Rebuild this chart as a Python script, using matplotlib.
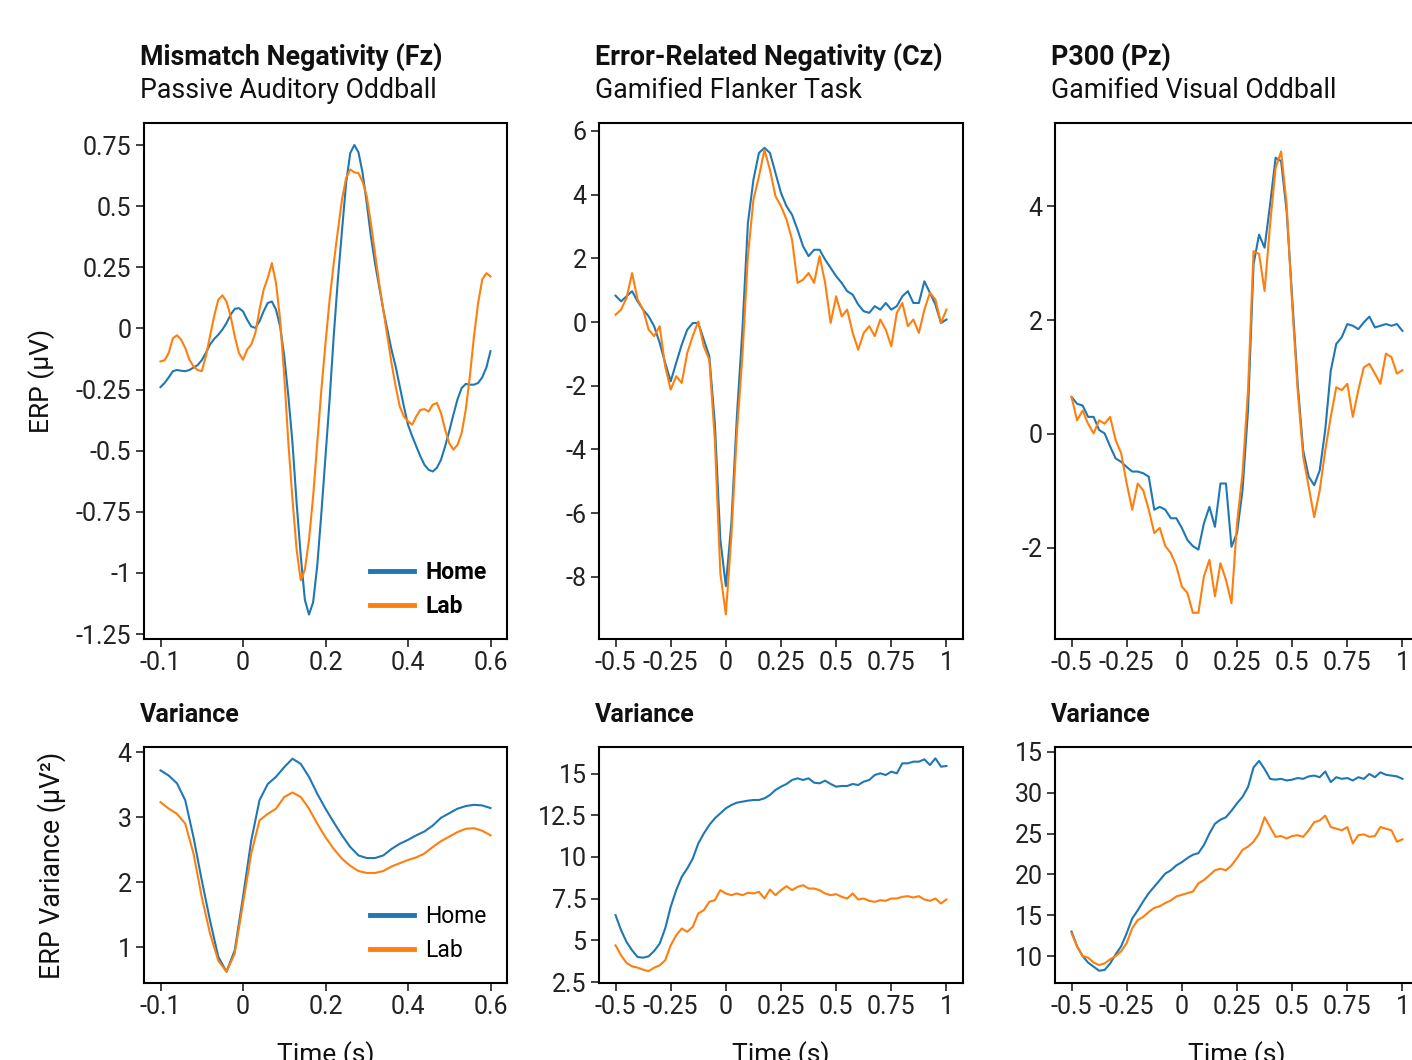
import numpy as np
import matplotlib
matplotlib.use("Agg")
import matplotlib.pyplot as plt
from matplotlib.ticker import FixedLocator, FixedFormatter

plt.rcParams['font.family'] = ['Roboto', 'DejaVu Sans']
plt.rcParams['axes.unicode_minus'] = False

HOME_C = '#1f77b4'
LAB_C = '#ff7f0e'

# ---- ERP traces ----
# Mismatch negativity, t from -0.2 to 0.6 s
mmn_home = [-0.24, -0.223, -0.20, -0.175, -0.17, -0.173, -0.175, -0.17, -0.16, -0.15,
            -0.13, -0.10, -0.066, -0.043, -0.026, -0.005, 0.022, 0.056, 0.08, 0.083,
            0.07, 0.036, 0.008, 0.002, 0.029, 0.07, 0.104, 0.11, 0.077, 0.008,
            -0.114, -0.278, -0.469, -0.714, -0.93, -1.11, -1.17, -1.12, -0.97, -0.755,
            -0.523, -0.29, -0.03, 0.20, 0.40, 0.595, 0.717, 0.75, 0.72, 0.635,
            0.513, 0.377, 0.267, 0.172, 0.077, -0.005, -0.087, -0.155, -0.237, -0.319,
            -0.394, -0.44, -0.482, -0.523, -0.558, -0.578, -0.585, -0.57, -0.537, -0.482,
            -0.42, -0.353, -0.29, -0.244, -0.227, -0.23, -0.23, -0.223, -0.20, -0.16,
            -0.093]
mmn_lab = [-0.135, -0.13, -0.10, -0.04, -0.028, -0.046, -0.08, -0.128, -0.155, -0.17,
           -0.175, -0.114, -0.032, 0.05, 0.117, 0.135, 0.11, 0.05, -0.032, -0.10,
           -0.128, -0.087, -0.066, -0.019, 0.077, 0.158, 0.206, 0.267, 0.186, 0.036,
           -0.195, -0.469, -0.70, -0.905, -1.03, -0.987, -0.864, -0.687, -0.469, -0.25,
           -0.06, 0.117, 0.267, 0.40, 0.527, 0.615, 0.65, 0.638, 0.635, 0.60,
           0.54, 0.43, 0.308, 0.186, 0.077, -0.032, -0.141, -0.237, -0.319, -0.36,
           -0.38, -0.394, -0.36, -0.333, -0.33, -0.34, -0.312, -0.305, -0.346, -0.414,
           -0.469, -0.496, -0.476, -0.428, -0.333, -0.195, -0.032, 0.104, 0.20, 0.226,
           0.213]

# Error-related negativity, t from -0.5 to 1.0 s
ern_home = [0.83, 0.65, 0.81, 0.97, 0.65, 0.39, 0.18, -0.13, -0.65, -1.28,
            -1.86, -1.28, -0.71, -0.24, -0.03, -0.03, -0.55, -1.07, -3.17, -6.83,
            -8.29, -6.31, -2.96, -0.24, 3.11, 4.47, 5.31, 5.47, 5.31, 4.68,
            4.05, 3.64, 3.37, 2.90, 2.38, 2.07, 2.27, 2.27, 1.96, 1.70,
            1.44, 1.23, 0.97, 0.86, 0.55, 0.34, 0.29, 0.50, 0.39, 0.60,
            0.39, 0.50, 0.81, 0.97, 0.60, 0.60, 1.28, 0.92, 0.55, -0.03,
            0.08]
ern_lab = [0.23, 0.39, 0.76, 1.54, 0.71, 0.39, -0.24, -0.44, -0.13, -1.39,
           -2.12, -1.70, -1.91, -0.97, -0.44, 0.02, -0.76, -1.18, -3.69, -7.88,
           -9.18, -6.72, -3.48, -1.07, 2.07, 3.84, 4.57, 5.41, 4.78, 3.95,
           3.64, 3.22, 2.59, 1.23, 1.33, 1.54, 1.23, 2.07, 1.23, -0.03,
           0.81, 0.18, 0.39, -0.34, -0.87, -0.34, -0.13, -0.44, 0.08, -0.24,
           -0.76, 0.29, 0.60, -0.13, 0.08, -0.34, 0.39, 0.92, 0.71, -0.03,
           0.39]

# P300, t from -0.5 to 1.0 s
p300_home = [0.65, 0.53, 0.50, 0.30, 0.30, 0.07, 0.01, -0.22, -0.43, -0.49,
             -0.58, -0.66, -0.66, -0.69, -0.75, -1.33, -1.28, -1.33, -1.48, -1.48,
             -1.65, -1.86, -1.97, -2.03, -1.57, -1.28, -1.63, -0.87, -0.87, -1.98,
             -1.74, -0.99, 0.42, 2.98, 3.50, 3.27, 4.03, 4.85, 4.79, 3.91,
             2.40, 0.88, -0.29, -0.75, -0.90, -0.64, 0.07, 1.11, 1.58, 1.70,
             1.93, 1.90, 1.84, 1.96, 2.06, 1.87, 1.90, 1.93, 1.90, 1.93,
             1.81]
p300_lab = [0.65, 0.24, 0.41, 0.18, 0.01, 0.24, 0.18, 0.30, -0.11, -0.34,
            -0.87, -1.33, -0.87, -0.99, -1.33, -1.74, -1.65, -1.97, -2.09, -2.32,
            -2.68, -2.79, -3.14, -3.14, -2.50, -2.21, -2.85, -2.27, -2.56, -2.97,
            -1.57, -0.69, 0.77, 3.21, 3.16, 2.51, 3.68, 4.67, 4.96, 4.03,
            2.28, 0.77, -0.40, -0.93, -1.46, -0.99, -0.29, 0.30, 0.82, 0.77,
            0.88, 0.30, 0.77, 1.17, 1.23, 1.06, 0.88, 1.41, 1.35, 1.06,
            1.12]

# ---- variance traces ----
mmn_var_home = [3.72, 3.64, 3.52, 3.26, 2.69, 2.03, 1.41, 0.85, 0.62, 0.95,
                1.77, 2.64, 3.26, 3.51, 3.62, 3.77, 3.90, 3.82, 3.62, 3.36,
                3.13, 2.92, 2.72, 2.54, 2.41, 2.37, 2.37, 2.41, 2.51, 2.59,
                2.65, 2.72, 2.78, 2.87, 2.99, 3.06, 3.13, 3.17, 3.19, 3.18,
                3.14]
mmn_var_lab = [3.23, 3.13, 3.05, 2.90, 2.44, 1.77, 1.21, 0.79, 0.62, 0.90,
               1.67, 2.44, 2.95, 3.05, 3.13, 3.31, 3.38, 3.31, 3.13, 2.90,
               2.69, 2.51, 2.36, 2.25, 2.17, 2.14, 2.14, 2.17, 2.24, 2.29,
               2.34, 2.38, 2.44, 2.54, 2.63, 2.70, 2.77, 2.82, 2.83, 2.79,
               2.72]

ern_var_home = [6.51, 5.61, 4.90, 4.40, 4.00, 3.96, 4.04, 4.36, 4.80, 5.71,
                7.01, 8.01, 8.81, 9.31, 9.91, 10.81, 11.41, 11.92, 12.32, 12.62,
                12.92, 13.12, 13.26, 13.32, 13.38, 13.42, 13.42, 13.52, 13.72, 14.02,
                14.22, 14.38, 14.62, 14.72, 14.62, 14.72, 14.46, 14.42, 14.58, 14.38,
                14.22, 14.26, 14.26, 14.38, 14.32, 14.52, 14.62, 14.92, 15.02, 14.92,
                15.12, 15.02, 15.62, 15.62, 15.72, 15.72, 15.86, 15.52, 15.92, 15.42,
                15.46]
ern_var_lab = [4.70, 4.10, 3.64, 3.44, 3.36, 3.24, 3.15, 3.36, 3.50, 3.80,
               4.70, 5.30, 5.71, 5.51, 5.81, 6.61, 6.81, 7.31, 7.41, 8.01,
               7.81, 7.71, 7.81, 7.71, 7.85, 7.81, 7.91, 7.51, 8.05, 7.71,
               8.01, 8.25, 8.01, 8.21, 8.31, 8.11, 8.11, 8.01, 7.81, 7.71,
               7.77, 7.61, 7.51, 7.81, 7.45, 7.51, 7.37, 7.31, 7.41, 7.37,
               7.51, 7.51, 7.61, 7.65, 7.57, 7.65, 7.45, 7.37, 7.51, 7.21,
               7.45]

p300_var_home = [13.0, 11.2, 10.0, 9.2, 8.7, 8.2, 8.3, 9.1, 10.2, 11.2,
                 12.8, 14.6, 15.6, 16.7, 17.7, 18.5, 19.3, 20.1, 20.5, 21.1,
                 21.5, 22.0, 22.4, 22.6, 23.6, 25.0, 26.2, 26.7, 27.0, 27.8,
                 28.7, 29.5, 30.7, 33.1, 33.9, 32.9, 31.7, 31.6, 31.7, 31.5,
                 31.6, 31.8, 31.7, 32.0, 32.1, 31.9, 32.6, 31.3, 31.9, 31.7,
                 31.8, 31.5, 31.9, 31.7, 32.3, 31.9, 32.5, 32.2, 32.1, 32.0,
                 31.7]
p300_var_lab = [12.8, 11.2, 10.0, 9.8, 9.2, 8.9, 9.1, 9.6, 10.0, 10.6,
                11.6, 13.4, 14.4, 14.8, 15.4, 15.9, 16.1, 16.5, 16.8, 17.3,
                17.5, 17.7, 17.9, 18.9, 19.3, 19.9, 20.5, 20.7, 20.5, 21.1,
                22.0, 23.0, 23.4, 24.0, 25.0, 27.0, 25.8, 24.6, 24.7, 24.4,
                24.7, 24.8, 24.6, 25.4, 26.4, 26.6, 27.2, 25.8, 25.6, 25.4,
                25.8, 23.8, 24.8, 24.9, 24.6, 24.7, 25.8, 25.6, 25.4, 24.0,
                24.3]

# ticks as printed in the figure
mmn_xticks = [-0.2, 0, 0.2, 0.4, 0.6]
mmn_xlabels = ['-0.1', '0', '0.2', '0.4', '0.6']
long_xticks = [-0.5, -0.25, 0, 0.25, 0.5, 0.75, 1]
long_xlabels = ['-0.5', '-0.25', '0', '0.25', '0.5', '0.75', '1']
mmn_yticks = [0.75, 0.5, 0.25, 0, -0.25, -0.5, -0.75, -1, -1.25]
ern_yticks = [6, 4, 2, 0, -2, -4, -6, -8]
p300_yticks = [4, 2, 0, -2]
mmn_var_yticks = [1, 2, 3, 4]
ern_var_yticks = [2.5, 5, 7.5, 10, 12.5, 15]
p300_var_yticks = [10, 15, 20, 25, 30, 35]
p300_var_ylabels = ['10', '15', '20', '25', '30', '15']

titles = ['Mismatch Negativity (Fz)', 'Error-Related Negativity (Cz)', 'P300 (Pz)']
subtitles = ['Passive Auditory Oddball', 'Gamified Flanker Task', 'Gamified Visual Oddball']

W, H = 1412, 1060
fig = plt.figure(figsize=(W / 100, H / 100), dpi=100)


def box(x0, y0, x1, y1):
    return [x0 / W, 1 - y1 / H, (x1 - x0) / W, (y1 - y0) / H]


def style(ax):
    for s in ax.spines.values():
        s.set_linewidth(1.5)
    ax.tick_params(direction='out', length=6, width=1.2, labelsize=18, pad=3,
                   colors='#222222')


def draw(ax, t0, t1, home, lab, xticks, xlabels, yticks, ylim, ylabels=None):
    ax.plot(np.linspace(t0, t1, len(home)), home, color=HOME_C, lw=1.5, label='Home')
    ax.plot(np.linspace(t0, t1, len(lab)), lab, color=LAB_C, lw=1.5, label='Lab')
    pad = (t1 - t0) * 0.05
    ax.set_xlim(t0 - pad, t1 + pad)
    ax.set_ylim(*ylim)
    ax.xaxis.set_major_locator(FixedLocator(xticks))
    ax.xaxis.set_major_formatter(FixedFormatter(xlabels))
    ax.yaxis.set_major_locator(FixedLocator(yticks))
    if ylabels is None:
        ylabels = ['%g' % v for v in yticks]
    ax.yaxis.set_major_formatter(FixedFormatter(ylabels))
    style(ax)


lefts = [(144, 507), (599, 963), (1055, 1419)]
top_axes = [fig.add_axes(box(x0, 123, x1, 639)) for x0, x1 in lefts]
bot_axes = [fig.add_axes(box(x0, 747, x1, 983)) for x0, x1 in lefts]

draw(top_axes[0], -0.2, 0.6, mmn_home, mmn_lab, mmn_xticks, mmn_xlabels, mmn_yticks,
     (-1.27, 0.84))
draw(top_axes[1], -0.5, 1.0, ern_home, ern_lab, long_xticks, long_xlabels, ern_yticks,
     (-9.95, 6.25))
draw(top_axes[2], -0.5, 1.0, p300_home, p300_lab, long_xticks, long_xlabels, p300_yticks,
     (-3.6, 5.46))
draw(bot_axes[0], -0.2, 0.6, mmn_var_home, mmn_var_lab, mmn_xticks, mmn_xlabels,
     mmn_var_yticks, (0.446, 4.08))
draw(bot_axes[1], -0.5, 1.0, ern_var_home, ern_var_lab, long_xticks, long_xlabels,
     ern_var_yticks, (2.44, 16.6))
draw(bot_axes[2], -0.5, 1.0, p300_var_home, p300_var_lab, long_xticks, long_xlabels,
     p300_var_yticks, (6.7, 35.6), p300_var_ylabels)

leg = top_axes[0].legend(loc='lower right', frameon=False, handlelength=1.9,
                         handletextpad=0.5, prop={'weight': 'bold', 'size': 16.5})
for h in leg.legend_handles:
    h.set_linewidth(3.5)
leg = bot_axes[0].legend(loc='lower right', frameon=False, handlelength=1.9,
                         handletextpad=0.5, prop={'size': 16.5})
for h in leg.legend_handles:
    h.set_linewidth(3.5)

for (x0, x1), title, sub in zip(lefts, titles, subtitles):
    fig.text((x0 - 4) / W, 1 - 57 / H, title, fontsize=19.3, fontweight='bold',
             va='center', ha='left', color='#111111')
    fig.text((x0 - 4) / W, 1 - 90 / H, sub, fontsize=19.3, va='center', ha='left',
             color='#111111')
    fig.text((x0 - 4) / W, 1 - 715 / H, 'Variance', fontsize=18, fontweight='bold',
             va='center', ha='left', color='#111111')
    fig.text((x0 + x1) / 2 / W, 1 - 1041 / H, 'Time (s)', fontsize=19, va='top',
             ha='center', color='#111111')

fig.text(42 / W, 1 - 381 / H, 'ERP (µV)', fontsize=19, rotation=90,
         va='center', ha='center', color='#111111')
fig.text(52 / W, 1 - 865 / H, 'ERP Variance (µV²)', fontsize=19.3, rotation=90,
         va='center', ha='center', color='#111111')

fig.savefig('out.png', dpi=100)
